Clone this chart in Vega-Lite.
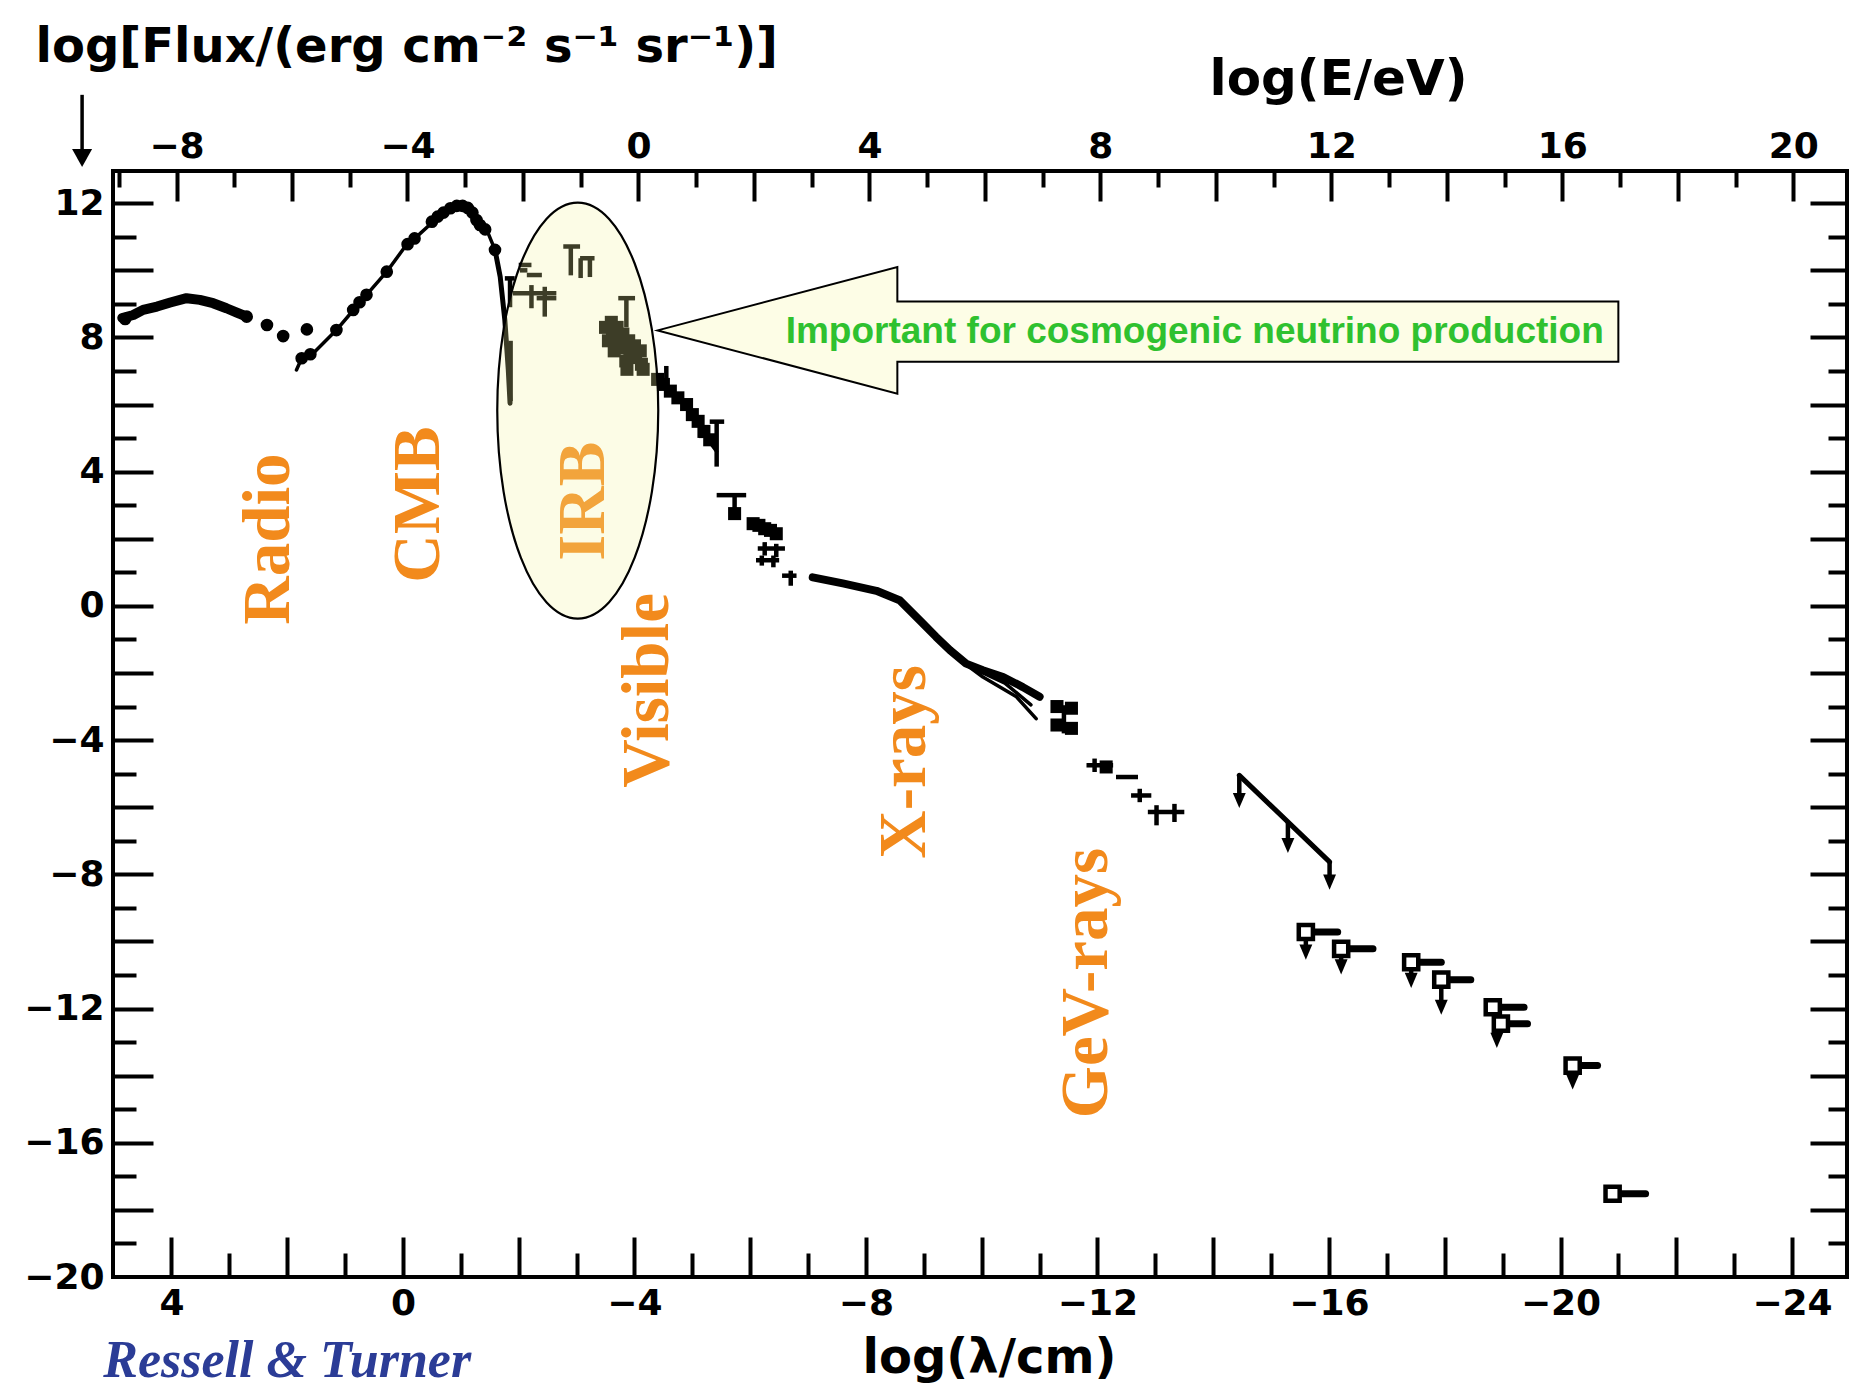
{
"$schema":"https://vega.github.io/schema/vega-lite/v6.json",
"width":1734,"height":1106,
"autosize":{"type":"none"},
"padding":{"left":113,"top":171,"right":6,"bottom":111},
"background":"white",
"config":{"view":{"stroke":"black","strokeWidth":4},"axis":{"grid":false,"domain":false}},
"resolve":{"scale":{"x":"independent"},"axis":{"x":"independent","y":"independent"}},
"datasets":{
"d0":[{"lam":0,"E":0,"y":0}],
"curves":[
{"s":"radio","lam":4.85,"y":8.58},{"s":"radio","lam":4.66,"y":8.67},{"s":"radio","lam":4.49,"y":8.82},{"s":"radio","lam":4.25,"y":8.92},{"s":"radio","lam":4.02,"y":9.04},{"s":"radio","lam":3.74,"y":9.17},{"s":"radio","lam":3.51,"y":9.12},{"s":"radio","lam":3.28,"y":9.02},{"s":"radio","lam":3.05,"y":8.87},{"s":"radio","lam":2.87,"y":8.74},{"s":"radio","lam":2.7,"y":8.62},
{"s":"cmb","lam":1.84,"y":7.03},{"s":"cmb","lam":1.75,"y":7.38},{"s":"cmb","lam":1.55,"y":7.53},{"s":"cmb","lam":1.15,"y":8.22},{"s":"cmb","lam":0.83,"y":8.87},{"s":"cmb","lam":0.63,"y":9.27},{"s":"cmb","lam":0.28,"y":9.96},{"s":"cmb","lam":-0.06,"y":10.76},{"s":"cmb","lam":-0.21,"y":10.96},{"s":"cmb","lam":-0.52,"y":11.45},{"s":"cmb","lam":-0.7,"y":11.7},{"s":"cmb","lam":-0.93,"y":11.9},{"s":"cmb","lam":-1.1,"y":11.88},{"s":"cmb","lam":-1.21,"y":11.7},{"s":"cmb","lam":-1.3,"y":11.4},{"s":"cmb","lam":-1.45,"y":11.2},{"s":"cmb","lam":-1.59,"y":10.61},
{"s":"cmbdrop","lam":-1.59,"y":10.61},{"s":"cmbdrop","lam":-1.68,"y":9.81},{"s":"cmbdrop","lam":-1.76,"y":8.52},{"s":"cmbdrop","lam":-1.82,"y":7.03},{"s":"cmbdrop","lam":-1.85,"y":6.04},
{"s":"uv","lam":-4.38,"y":6.8},{"s":"uv","lam":-4.5,"y":6.6},{"s":"uv","lam":-4.65,"y":6.35},{"s":"uv","lam":-4.8,"y":6.1},{"s":"uv","lam":-4.95,"y":5.85},{"s":"uv","lam":-5.1,"y":5.45},{"s":"uv","lam":-5.25,"y":5.0},{"s":"uv","lam":-5.42,"y":4.6},
{"s":"xray","lam":-7.08,"y":0.85},{"s":"xray","lam":-7.6,"y":0.67},{"s":"xray","lam":-8.18,"y":0.45},{"s":"xray","lam":-8.58,"y":0.17},{"s":"xray","lam":-8.93,"y":-0.43},{"s":"xray","lam":-9.21,"y":-0.92},{"s":"xray","lam":-9.45,"y":-1.32},{"s":"xray","lam":-9.73,"y":-1.72},{"s":"xray","lam":-10.02,"y":-1.92},{"s":"xray","lam":-10.37,"y":-2.12},{"s":"xray","lam":-10.71,"y":-2.42},{"s":"xray","lam":-11.0,"y":-2.71},
{"s":"xlow","lam":-9.73,"y":-1.75},{"s":"xlow","lam":-10.02,"y":-2.12},{"s":"xlow","lam":-10.6,"y":-2.71},{"s":"xlow","lam":-10.94,"y":-3.36},
{"s":"xmid","lam":-9.9,"y":-1.9},{"s":"xmid","lam":-10.4,"y":-2.3},{"s":"xmid","lam":-10.85,"y":-2.95},
{"s":"gevline","lam":-14.45,"y":-5.05},{"s":"gevline","lam":-16.01,"y":-7.63}
],
"dots":[
{"lam":4.8,"y":8.55},{"lam":2.7,"y":8.62},{"lam":2.35,"y":8.37},{"lam":2.07,"y":8.04},{"lam":1.66,"y":8.24},
{"lam":1.75,"y":7.38},{"lam":1.6,"y":7.5},{"lam":1.15,"y":8.22},{"lam":0.86,"y":8.82},{"lam":0.75,"y":9.05},{"lam":0.63,"y":9.27},{"lam":0.28,"y":9.96},{"lam":-0.08,"y":10.78},{"lam":-0.2,"y":10.95},{"lam":-0.5,"y":11.45},{"lam":-0.6,"y":11.6},{"lam":-0.7,"y":11.72},{"lam":-0.82,"y":11.85},{"lam":-0.93,"y":11.92},{"lam":-1.03,"y":11.92},{"lam":-1.12,"y":11.86},{"lam":-1.2,"y":11.72},{"lam":-1.27,"y":11.5},{"lam":-1.33,"y":11.35},{"lam":-1.42,"y":11.22},{"lam":-1.59,"y":10.61}
],
"blobs":[
{"lam":-3.5,"y":8.3},{"lam":-3.55,"y":7.9},{"lam":-3.6,"y":8.45},{"lam":-3.62,"y":8.1},{"lam":-3.7,"y":8.3},{"lam":-3.72,"y":7.9},{"lam":-3.8,"y":8.1},{"lam":-3.82,"y":7.7},{"lam":-3.9,"y":7.9},{"lam":-3.92,"y":7.5},{"lam":-4.0,"y":7.75},{"lam":-4.02,"y":7.4},{"lam":-4.1,"y":7.6},{"lam":-4.12,"y":7.2},{"lam":-3.85,"y":7.3},{"lam":-3.87,"y":7.05},{"lam":-4.15,"y":7.05},{"lam":-3.65,"y":7.6},
{"lam":-4.4,"y":6.75},{"lam":-4.5,"y":6.6},{"lam":-4.62,"y":6.4},{"lam":-4.75,"y":6.2},{"lam":-4.9,"y":6.0},{"lam":-5.0,"y":5.7},{"lam":-5.1,"y":5.5},{"lam":-5.2,"y":5.2},{"lam":-5.3,"y":4.95},
{"lam":-6.05,"y":2.45},{"lam":-6.15,"y":2.4},{"lam":-6.25,"y":2.3},{"lam":-6.35,"y":2.25},{"lam":-6.45,"y":2.15},{"lam":-5.73,"y":2.75},
{"lam":-11.3,"y":-3.0},{"lam":-11.55,"y":-3.05},{"lam":-11.3,"y":-3.55},{"lam":-11.55,"y":-3.65},{"lam":-12.15,"y":-4.8}
],
"hbars":[
{"lam":-1.76,"lam2":-1.93,"y":9.76},{"lam":-2.0,"lam2":-2.22,"y":10.16},{"lam":-2.02,"lam2":-2.15,"y":10.0},{"lam":-2.14,"lam2":-2.4,"y":9.86},{"lam":-1.9,"lam2":-2.65,"y":9.32},{"lam":-2.31,"lam2":-2.65,"y":9.17},{"lam":-2.77,"lam2":-3.06,"y":10.71},{"lam":-3.06,"lam2":-3.31,"y":10.36},{"lam":-3.72,"lam2":-4.01,"y":9.17},{"lam":-5.3,"lam2":-5.55,"y":5.49},{"lam":-5.42,"lam2":-5.93,"y":3.3},{"lam":-6.13,"lam2":-6.6,"y":1.71},{"lam":-6.1,"lam2":-6.5,"y":1.36},{"lam":-6.55,"lam2":-6.8,"y":0.9},{"lam":-11.81,"lam2":-12.27,"y":-4.75},{"lam":-12.32,"lam2":-12.7,"y":-5.1},{"lam":-12.58,"lam2":-12.93,"y":-5.65},{"lam":-12.87,"lam2":-13.5,"y":-6.14}
],
"vbars":[
{"lam":-1.85,"y":9.76,"y2":8.9},{"lam":-2.22,"y":9.56,"y2":8.87},{"lam":-2.45,"y":9.51,"y2":8.62},{"lam":-2.9,"y":10.71,"y2":9.85},{"lam":-3.07,"y":10.36,"y2":9.77},{"lam":-3.23,"y":10.36,"y2":9.8},{"lam":-3.86,"y":9.17,"y2":8.3},{"lam":-1.86,"y":7.9,"y2":6.1},{"lam":-4.55,"y":7.15,"y2":6.4},{"lam":-4.95,"y":6.1,"y2":5.6},{"lam":-5.15,"y":5.6,"y2":5.0},{"lam":-5.42,"y":5.49,"y2":4.15},{"lam":-5.73,"y":3.3,"y2":2.7},{"lam":-6.25,"y":1.9,"y2":1.5},{"lam":-6.45,"y":1.85,"y2":1.45},{"lam":-6.2,"y":1.5,"y2":1.2},{"lam":-6.4,"y":1.5,"y2":1.15},{"lam":-6.7,"y":1.05,"y2":0.6},{"lam":-11.42,"y":-2.96,"y2":-3.8},{"lam":-11.95,"y":-4.55,"y2":-4.95},{"lam":-12.73,"y":-5.45,"y2":-5.85},{"lam":-13.02,"y":-5.94,"y2":-6.54},{"lam":-13.33,"y":-5.9,"y2":-6.44}
],
"stems":[
{"lam":-14.45,"y":-5.05,"y2":-5.8},{"lam":-15.29,"y":-6.44,"y2":-7.14},{"lam":-16.01,"y":-7.63,"y2":-8.23},{"lam":-15.6,"y":-9.72,"y2":-10.32},{"lam":-16.21,"y":-10.22,"y2":-10.76},{"lam":-17.42,"y":-10.62,"y2":-11.16},{"lam":-17.94,"y":-11.14,"y2":-11.96},{"lam":-18.9,"y":-12.45,"y2":-12.95},{"lam":-20.21,"y":-13.7,"y2":-14.19}
],
"uls":[
{"lam":-15.6,"y":-9.72,"lamT":-16.15},{"lam":-16.21,"y":-10.22,"lamT":-16.76},{"lam":-17.42,"y":-10.62,"lamT":-17.94},{"lam":-17.94,"y":-11.14,"lamT":-18.45},{"lam":-18.83,"y":-11.96,"lamT":-19.37},{"lam":-18.97,"y":-12.45,"lamT":-19.43},{"lam":-20.21,"y":-13.7,"lamT":-20.64},{"lam":-20.9,"y":-17.52,"lamT":-21.47}
],
"bands":[{"t":"Radio","lam":2.31,"y":1.99},{"t":"CMB","lam":-0.27,"y":3.02},{"t":"IRB","lam":-3.12,"y":3.12},{"t":"Visible","lam":-4.23,"y":-2.52},{"t":"X-rays","lam":-8.67,"y":-4.65},{"t":"GeV-rays","lam":-11.82,"y":-11.24}],
"ellipse":[{"lam":-3.02,"y":5.82}],
"arrow":[{"lam":-12.7,"y":8.21}],
"note":[{"t":"Important for cosmogenic neutrino production","lam":-13.68,"y":8.16}],
"credit":[{"t":"Ressell & Turner","lam":2.0,"y":-22.5}],
"yarrow":[{"lam":5.544,"y":15.23,"y2":13.59,"yh":13.35}]
},
"layer":[
{"data":{"name":"d0"},"mark":{"type":"point","opacity":0},
 "encoding":{
  "x":{"field":"lam","type":"quantitative","scale":{"domain":[-24.95,5.01],"reverse":true,"nice":false,"zero":false},
   "axis":{"orient":"bottom","values":[4,0,-4,-8,-12,-16,-20,-24],"format":"d","ticks":false,"domain":false,"grid":false,"labelFont":"DejaVu Sans","labelFontWeight":"bold","labelFontSize":36,"labelColor":"black","labelPadding":9,"labelFlush":false,"labelOverlap":false,
    "title":"log(λ/cm)","titleFont":"DejaVu Sans","titleFontWeight":"bold","titleFontSize":48,"titleColor":"black","titleX":876,"titleY":81,"titleAlign":"center","titleBaseline":"middle"}},
  "y":{"field":"y","type":"quantitative","scale":{"domain":[-20,12.96],"nice":false,"zero":false},
   "axis":{"orient":"left","values":[12,8,4,0,-4,-8,-12,-16,-20],"format":"d","ticks":false,"domain":false,"grid":false,"labelFont":"DejaVu Sans","labelFontWeight":"bold","labelFontSize":36,"labelColor":"black","labelPadding":9,"labelFlush":false,"labelOverlap":false,
    "title":"log[Flux/(erg cm⁻² s⁻¹ sr⁻¹)]","titleFont":"DejaVu Sans","titleFontWeight":"bold","titleFontSize":48,"titleColor":"black","titleAngle":0,"titleAlign":"left","titleBaseline":"middle","titleX":-78,"titleY":-124}}
 }},
{"data":{"name":"d0"},"mark":{"type":"point","opacity":0},
 "encoding":{
  "x":{"field":"lam","type":"quantitative","scale":{"domain":[-24.95,5.01],"reverse":true,"nice":false,"zero":false},
   "axis":{"orient":"bottom","values":[4,2,0,-2,-4,-6,-8,-10,-12,-14,-16,-18,-20,-22,-24],"labels":false,"ticks":true,"tickSize":-40,"tickWidth":4,"tickColor":"black","domain":false,"grid":false,"title":null}},
  "y":{"field":"y","type":"quantitative","scale":{"domain":[-20,12.96],"nice":false,"zero":false},
   "axis":{"orient":"left","values":[12,10,8,6,4,2,0,-2,-4,-6,-8,-10,-12,-14,-16,-18],"labels":false,"ticks":true,"tickSize":-40,"tickWidth":4,"tickColor":"black","domain":false,"grid":false,"title":null}}
 }},
{"data":{"name":"d0"},"mark":{"type":"point","opacity":0},
 "encoding":{
  "x":{"field":"lam","type":"quantitative","scale":{"domain":[-24.95,5.01],"reverse":true,"nice":false,"zero":false},
   "axis":{"orient":"bottom","values":[3,1,-1,-3,-5,-7,-9,-11,-13,-15,-17,-19,-21,-23],"labels":false,"ticks":true,"tickSize":-24,"tickWidth":4,"tickColor":"black","domain":false,"grid":false,"title":null}},
  "y":{"field":"y","type":"quantitative","scale":{"domain":[-20,12.96],"nice":false,"zero":false},
   "axis":{"orient":"left","values":[11,9,7,5,3,1,-1,-3,-5,-7,-9,-11,-13,-15,-17,-19],"labels":false,"ticks":true,"tickSize":-23,"tickWidth":4,"tickColor":"black","domain":false,"grid":false,"title":null}}
 }},
{"data":{"name":"d0"},"mark":{"type":"point","opacity":0},
 "encoding":{
  "x":{"field":"E","type":"quantitative","scale":{"domain":[-9.1,20.93],"nice":false,"zero":false},
   "axis":{"orient":"top","values":[-8,-4,0,4,8,12,16,20],"format":"d","ticks":false,"domain":false,"grid":false,"labelFont":"DejaVu Sans","labelFontWeight":"bold","labelFontSize":36,"labelColor":"black","labelPadding":6,"labelFlush":false,"labelOverlap":false,
    "title":"log(E/eV)","titleFont":"DejaVu Sans","titleFontWeight":"bold","titleFontSize":50,"titleColor":"black","titleX":1225,"titleY":-92,"titleAlign":"center","titleBaseline":"middle"}},
  "y":{"field":"y","type":"quantitative","scale":{"domain":[-20,12.96],"nice":false,"zero":false},
   "axis":{"orient":"right","values":[12,10,8,6,4,2,0,-2,-4,-6,-8,-10,-12,-14,-16,-18],"labels":false,"ticks":true,"tickSize":-37,"tickWidth":4,"tickColor":"black","domain":false,"grid":false,"title":null}}
 }},
{"data":{"name":"d0"},"mark":{"type":"point","opacity":0},
 "encoding":{
  "x":{"field":"E","type":"quantitative","scale":{"domain":[-9.1,20.93],"nice":false,"zero":false},
   "axis":{"orient":"top","values":[-8,-6,-4,-2,0,2,4,6,8,10,12,14,16,18,20],"labels":false,"ticks":true,"tickSize":-30,"tickWidth":4,"tickColor":"black","domain":false,"grid":false,"title":null}},
  "y":{"field":"y","type":"quantitative","scale":{"domain":[-20,12.96],"nice":false,"zero":false},
   "axis":{"orient":"right","values":[11,9,7,5,3,1,-1,-3,-5,-7,-9,-11,-13,-15,-17,-19],"labels":false,"ticks":true,"tickSize":-19,"tickWidth":4,"tickColor":"black","domain":false,"grid":false,"title":null}}
 }},
{"data":{"name":"d0"},"mark":{"type":"point","opacity":0},
 "encoding":{
  "x":{"field":"E","type":"quantitative","scale":{"domain":[-9.1,20.93],"nice":false,"zero":false},
   "axis":{"orient":"top","values":[-9,-7,-5,-3,-1,1,3,5,7,9,11,13,15,17,19],"labels":false,"ticks":true,"tickSize":-16,"tickWidth":4,"tickColor":"black","domain":false,"grid":false,"title":null}},
  "y":{"field":"y","type":"quantitative","scale":{"domain":[-20,12.96],"nice":false,"zero":false},"axis":null}
 }},
{"data":{"name":"curves"},"transform":[{"filter":{"field":"s","oneOf":["radio"]}}],
 "mark":{"type":"line","color":"black","strokeWidth":10,"strokeCap":"round","strokeJoin":"round"},
 "encoding":{"x":{"field":"lam","type":"quantitative","scale":{"domain":[-24.95,5.01],"reverse":true,"nice":false,"zero":false},"axis":null},
  "y":{"field":"y","type":"quantitative","scale":{"domain":[-20,12.96],"nice":false,"zero":false},"axis":null},"detail":{"field":"s"}}},
{"data":{"name":"curves"},"transform":[{"filter":{"field":"s","oneOf":["cmb","uv","xlow","xmid"]}}],
 "mark":{"type":"line","color":"black","strokeWidth":3.5,"strokeCap":"round","strokeJoin":"round"},
 "encoding":{"x":{"field":"lam","type":"quantitative","scale":{"domain":[-24.95,5.01],"reverse":true,"nice":false,"zero":false},"axis":null},
  "y":{"field":"y","type":"quantitative","scale":{"domain":[-20,12.96],"nice":false,"zero":false},"axis":null},"detail":{"field":"s"}}},
{"data":{"name":"curves"},"transform":[{"filter":{"field":"s","oneOf":["cmbdrop","gevline"]}}],
 "mark":{"type":"line","color":"black","strokeWidth":5,"strokeCap":"round","strokeJoin":"round"},
 "encoding":{"x":{"field":"lam","type":"quantitative","scale":{"domain":[-24.95,5.01],"reverse":true,"nice":false,"zero":false},"axis":null},
  "y":{"field":"y","type":"quantitative","scale":{"domain":[-20,12.96],"nice":false,"zero":false},"axis":null},"detail":{"field":"s"}}},
{"data":{"name":"curves"},"transform":[{"filter":{"field":"s","oneOf":["xray"]}}],
 "mark":{"type":"line","color":"black","strokeWidth":8,"strokeCap":"round","strokeJoin":"round"},
 "encoding":{"x":{"field":"lam","type":"quantitative","scale":{"domain":[-24.95,5.01],"reverse":true,"nice":false,"zero":false},"axis":null},
  "y":{"field":"y","type":"quantitative","scale":{"domain":[-20,12.96],"nice":false,"zero":false},"axis":null},"detail":{"field":"s"}}},
{"data":{"name":"dots"},"mark":{"type":"point","shape":"circle","filled":true,"color":"black","opacity":1,"size":160},
 "encoding":{"x":{"field":"lam","type":"quantitative","scale":{"domain":[-24.95,5.01],"reverse":true,"nice":false,"zero":false},"axis":null},
  "y":{"field":"y","type":"quantitative","scale":{"domain":[-20,12.96],"nice":false,"zero":false},"axis":null}}},
{"data":{"name":"blobs"},"mark":{"type":"point","shape":"square","filled":true,"color":"black","opacity":1,"size":170},
 "encoding":{"x":{"field":"lam","type":"quantitative","scale":{"domain":[-24.95,5.01],"reverse":true,"nice":false,"zero":false},"axis":null},
  "y":{"field":"y","type":"quantitative","scale":{"domain":[-20,12.96],"nice":false,"zero":false},"axis":null}}},
{"data":{"name":"hbars"},"mark":{"type":"rule","color":"black","strokeWidth":4.5},
 "encoding":{"x":{"field":"lam","type":"quantitative","scale":{"domain":[-24.95,5.01],"reverse":true,"nice":false,"zero":false},"axis":null},"x2":{"field":"lam2"},
  "y":{"field":"y","type":"quantitative","scale":{"domain":[-20,12.96],"nice":false,"zero":false},"axis":null}}},
{"data":{"name":"vbars"},"mark":{"type":"rule","color":"black","strokeWidth":4.5},
 "encoding":{"x":{"field":"lam","type":"quantitative","scale":{"domain":[-24.95,5.01],"reverse":true,"nice":false,"zero":false},"axis":null},
  "y":{"field":"y","type":"quantitative","scale":{"domain":[-20,12.96],"nice":false,"zero":false},"axis":null},"y2":{"field":"y2"}}},
{"data":{"name":"stems"},"mark":{"type":"rule","color":"black","strokeWidth":4.5},
 "encoding":{"x":{"field":"lam","type":"quantitative","scale":{"domain":[-24.95,5.01],"reverse":true,"nice":false,"zero":false},"axis":null},
  "y":{"field":"y","type":"quantitative","scale":{"domain":[-20,12.96],"nice":false,"zero":false},"axis":null},"y2":{"field":"y2"}}},
{"data":{"name":"stems"},"mark":{"type":"point","shape":"M -0.85 -1 L 0.85 -1 L 0 1 Z","filled":true,"color":"black","opacity":1,"size":230},
 "encoding":{"x":{"field":"lam","type":"quantitative","scale":{"domain":[-24.95,5.01],"reverse":true,"nice":false,"zero":false},"axis":null},
  "y":{"field":"y2","type":"quantitative","scale":{"domain":[-20,12.96],"nice":false,"zero":false},"axis":null}}},
{"data":{"name":"uls"},"mark":{"type":"rule","color":"black","strokeWidth":7,"strokeCap":"round"},
 "encoding":{"x":{"field":"lam","type":"quantitative","scale":{"domain":[-24.95,5.01],"reverse":true,"nice":false,"zero":false},"axis":null},"x2":{"field":"lamT"},
  "y":{"field":"y","type":"quantitative","scale":{"domain":[-20,12.96],"nice":false,"zero":false},"axis":null}}},
{"data":{"name":"uls"},"mark":{"type":"point","shape":"square","filled":true,"fill":"white","stroke":"black","strokeWidth":4.5,"opacity":1,"size":200},
 "encoding":{"x":{"field":"lam","type":"quantitative","scale":{"domain":[-24.95,5.01],"reverse":true,"nice":false,"zero":false},"axis":null},
  "y":{"field":"y","type":"quantitative","scale":{"domain":[-20,12.96],"nice":false,"zero":false},"axis":null}}},
{"data":{"name":"bands"},"mark":{"type":"text","font":"Liberation Serif","fontWeight":"bold","fontSize":67,"angle":270,"align":"center","baseline":"middle","color":"#F28A1C"},
 "encoding":{"x":{"field":"lam","type":"quantitative","scale":{"domain":[-24.95,5.01],"reverse":true,"nice":false,"zero":false},"axis":null},
  "y":{"field":"y","type":"quantitative","scale":{"domain":[-20,12.96],"nice":false,"zero":false},"axis":null},"text":{"field":"t"}}},
{"data":{"name":"ellipse"},"mark":{"type":"point","shape":"M 0 -1 C 0.2137 -1 0.387 -0.5523 0.387 0 C 0.387 0.5523 0.2137 1 0 1 C -0.2137 1 -0.387 0.5523 -0.387 0 C -0.387 -0.5523 -0.2137 -1 0 -1 Z","filled":true,"fill":"#f5f59b","fillOpacity":0.25,"stroke":"black","strokeWidth":2.2,"opacity":1,"size":173056},
 "encoding":{"x":{"field":"lam","type":"quantitative","scale":{"domain":[-24.95,5.01],"reverse":true,"nice":false,"zero":false},"axis":null},
  "y":{"field":"y","type":"quantitative","scale":{"domain":[-20,12.96],"nice":false,"zero":false},"axis":null}}},
{"data":{"name":"arrow"},"mark":{"type":"point","shape":"M -1 0 L -0.501 -0.1318 L -0.501 -0.0602 L 1 -0.0602 L 1 0.0652 L -0.501 0.0652 L -0.501 0.1316 Z","filled":true,"fill":"#fdfde6","stroke":"black","strokeWidth":2,"opacity":1,"size":922944},
 "encoding":{"x":{"field":"lam","type":"quantitative","scale":{"domain":[-24.95,5.01],"reverse":true,"nice":false,"zero":false},"axis":null},
  "y":{"field":"y","type":"quantitative","scale":{"domain":[-20,12.96],"nice":false,"zero":false},"axis":null}}},
{"data":{"name":"note"},"mark":{"type":"text","font":"Liberation Sans","fontWeight":"bold","fontSize":37,"align":"center","baseline":"middle","color":"#2FC12F"},
 "encoding":{"x":{"field":"lam","type":"quantitative","scale":{"domain":[-24.95,5.01],"reverse":true,"nice":false,"zero":false},"axis":null},
  "y":{"field":"y","type":"quantitative","scale":{"domain":[-20,12.96],"nice":false,"zero":false},"axis":null},"text":{"field":"t"}}},
{"data":{"name":"credit"},"mark":{"type":"text","font":"Liberation Serif","fontWeight":"bold","fontStyle":"italic","fontSize":52,"align":"center","baseline":"middle","color":"#2B3C96"},
 "encoding":{"x":{"field":"lam","type":"quantitative","scale":{"domain":[-24.95,5.01],"reverse":true,"nice":false,"zero":false},"axis":null},
  "y":{"field":"y","type":"quantitative","scale":{"domain":[-20,12.96],"nice":false,"zero":false},"axis":null},"text":{"field":"t"}}},
{"data":{"name":"yarrow"},"mark":{"type":"rule","color":"black","strokeWidth":3.5},
 "encoding":{"x":{"field":"lam","type":"quantitative","scale":{"domain":[-24.95,5.01],"reverse":true,"nice":false,"zero":false},"axis":null},
  "y":{"field":"y","type":"quantitative","scale":{"domain":[-20,12.96],"nice":false,"zero":false},"axis":null},"y2":{"field":"y2"}}},
{"data":{"name":"yarrow"},"mark":{"type":"point","shape":"M -1 -0.9 L 1 -0.9 L 0 0.9 Z","filled":true,"color":"black","opacity":1,"size":400},
 "encoding":{"x":{"field":"lam","type":"quantitative","scale":{"domain":[-24.95,5.01],"reverse":true,"nice":false,"zero":false},"axis":null},
  "y":{"field":"yh","type":"quantitative","scale":{"domain":[-20,12.96],"nice":false,"zero":false},"axis":null}}}
]
}
